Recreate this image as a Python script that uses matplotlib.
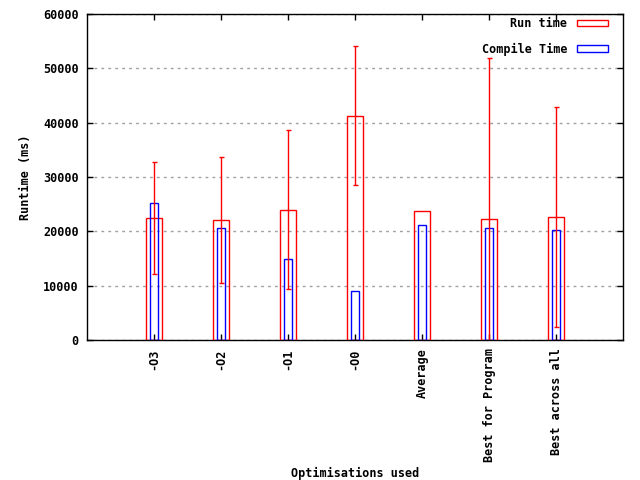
import matplotlib
matplotlib.use("Agg")

import matplotlib.pyplot as plt
import numpy as np

categorias = ["-O3", "-O2", "-O1", "-O0", "Average", "Best for Program", "Best across all"]
run_time = [22400, 22030, 23870, 41170, 23680, 22210, 22580]
compile_time = [25160, 20550, 14850, 8960, 21110, 20550, 20190]
# limites de las barras de error (min, max) del run time; None = sin barra
err_min = [12090, 10430, 9330, 28530, None, -8000, 2340]
err_max = [32700, 33620, 38590, 54050, None, 51960, 42820]

plt.rcParams["font.family"] = "DejaVu Sans Mono"
plt.rcParams["font.weight"] = "bold"
plt.rcParams["axes.labelweight"] = "bold"
plt.rcParams["font.size"] = 8.5

x = np.arange(1, len(categorias) + 1)

fig = plt.figure(figsize=(6.4, 4.8), dpi=100)
ax = fig.add_axes([87 / 640, 1 - 340 / 480, (623 - 87) / 640, (340 - 14) / 480])

rojo = "#FF0000"
azul = "#0000FF"

ax.bar(x, run_time, width=0.24, facecolor="none", edgecolor=rojo,
       linewidth=1.0, label="Run time", zorder=3)
ax.bar(x, compile_time, width=0.12, facecolor="none", edgecolor=azul,
       linewidth=1.0, label="Compile Time", zorder=3)

# barras de error
for xi, rt, lo, hi in zip(x, run_time, err_min, err_max):
    if lo is None:
        continue
    ax.errorbar(xi, rt, yerr=[[rt - lo], [hi - rt]], fmt="none",
                ecolor=rojo, elinewidth=1.0, capsize=1.8, capthick=1.0,
                zorder=4)

ax.set_xlim(0, 8)
ax.set_ylim(0, 60000)
ax.set_xticks(x)
ax.set_xticklabels(categorias, rotation=90, va="top")
ax.set_yticks(np.arange(0, 60001, 10000))

ax.tick_params(direction="in", length=4, width=1, top=True, right=True)
ax.tick_params(axis="x", pad=6)
ax.tick_params(axis="y", pad=6)

ax.yaxis.grid(True, linestyle=(0, (2, 3)), color="#A0A0A0", linewidth=1.0)
ax.set_axisbelow(True)

for s in ax.spines.values():
    s.set_linewidth(1.0)

ax.set_ylabel("Runtime (ms)", labelpad=8)
ax.set_xlabel("Optimisations used", labelpad=3)

ax.legend(loc="upper right", bbox_to_anchor=(0.980, 1.005), frameon=False,
          markerfirst=False, handlelength=2.6, handleheight=0.5,
          labelspacing=1.05, borderaxespad=0.0, handletextpad=0.8)

plt.savefig("out.png", dpi=100)
plt.close()
